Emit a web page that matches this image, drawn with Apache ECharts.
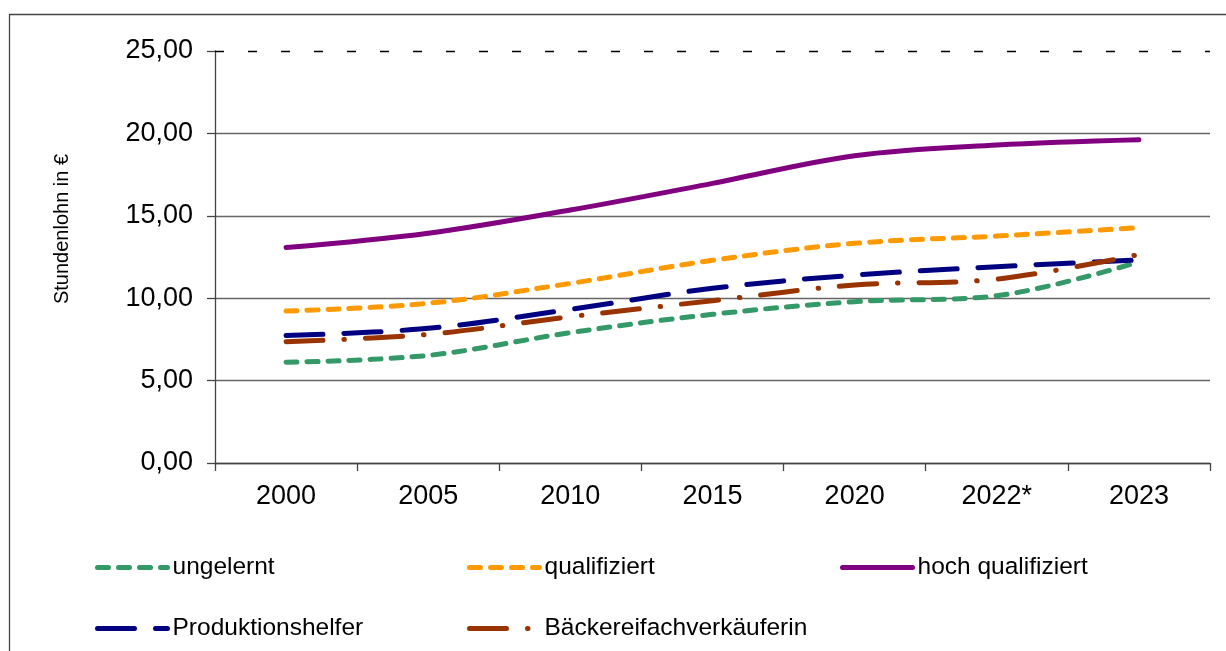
<!DOCTYPE html>
<html>
<head>
<meta charset="utf-8">
<script src="https://cdn.jsdelivr.net/npm/echarts@6/dist/echarts.min.js"></script>
<style>
html,body{margin:0;padding:0;background:#fff;}
#chart{width:1226px;height:651px;}
</style>
</head>
<body>
<div id="chart"></div>
<script>
// ---- data ----
var categories = ['2000', '2005', '2010', '2015', '2020', '2022*', '2023'];
var ungelernt = [6.11, 6.53, 7.91, 9.02, 9.79, 10.15, 12.2];
var qualifiziert = [9.22, 9.69, 10.9, 12.3, 13.33, 13.77, 14.28];
var hochQualifiziert = [13.07, 13.94, 15.35, 16.97, 18.65, 19.3, 19.62];
var produktionshelfer = [7.73, 8.17, 9.32, 10.6, 11.4, 11.91, 12.32];
var baeckerei = [7.36, 7.81, 8.88, 9.85, 10.8, 11.16, 12.65];
var yTicks = { min: 0, max: 25, interval: 5 };
var seriesNames = ['ungelernt', 'qualifiziert', 'hoch qualifiziert', 'Produktionshelfer', 'Bäckereifachverkäuferin'];

var FONT = "'Liberation Sans', Arial, sans-serif";

function mk(name, data, color, dash, extra) {
  var s = {
    name: name,
    type: 'line',
    data: data,
    smooth: 0.35,
    symbol: 'none',
    showSymbol: false,
    lineStyle: { color: color, width: 5, type: dash, cap: 'round', join: 'round' },
    itemStyle: { color: color },
    z: 3
  };
  if (extra) for (var k in extra) s[k] = extra[k];
  return s;
}

function legendCol(left, names) {
  return {
    orient: 'vertical', left: left, top: 550, itemGap: 36,
    itemWidth: 70, itemHeight: 14,
    data: names,
    textStyle: { fontSize: 24.5, color: '#000', fontFamily: FONT },
    itemStyle: { opacity: 0 },
    lineStyle: { width: 5 }
  };
}

var chart = echarts.init(document.getElementById('chart'), null, { renderer: 'canvas' });

var option = {
  animation: false,
  backgroundColor: '#fff',
  textStyle: { fontFamily: FONT },
  grid: { left: 215, right: 16, top: 51, bottom: 188, containLabel: false },
  xAxis: {
    type: 'category',
    data: categories,
    boundaryGap: true,
    axisLine: { lineStyle: { color: '#444', width: 1.3 } },
    axisTick: { show: true, length: 8, lineStyle: { color: '#444', width: 1.3 } },
    axisLabel: { color: '#000', fontSize: 27, fontFamily: FONT, margin: 20 },
    splitLine: { show: false }
  },
  yAxis: {
    type: 'value',
    min: yTicks.min,
    max: yTicks.max,
    interval: yTicks.interval,
    axisLine: { show: true, lineStyle: { color: '#444', width: 1.3 } },
    axisTick: { show: true, length: 8, lineStyle: { color: '#444', width: 1.3 } },
    axisLabel: {
      color: '#000', fontSize: 27, fontFamily: FONT, margin: 22,
      formatter: function (v) { return v.toFixed(2).replace('.', ','); }
    },
    splitLine: { show: true, showMaxLine: false, lineStyle: { color: '#666', width: 1.3 } }
  },
  legend: [
    legendCol(90, [seriesNames[0], seriesNames[3]]),
    legendCol(462, [seriesNames[1], seriesNames[4]]),
    legendCol(835, [seriesNames[2]])
  ],
  graphic: [
    {
      type: 'rect', silent: true, z: 0,
      shape: { x: 9.5, y: 14.5, width: 1400, height: 1000 },
      style: { fill: 'none', stroke: '#444', lineWidth: 1.3 }
    },
    {
      type: 'text', silent: true,
      x: 62, y: 229, rotation: Math.PI / 2,
      style: { text: 'Stundenlohn in €', fontSize: 20, fontFamily: FONT, fill: '#000', align: 'center', verticalAlign: 'middle' }
    }
  ],
  series: [
    mk(seriesNames[0], ungelernt, '#339966', [11, 10], {
      markLine: {
        silent: true, symbol: 'none', label: { show: false },
        lineStyle: { color: '#000', width: 1.3, type: [9, 24] },
        data: [{ yAxis: yTicks.max }]
      }
    }),
    mk(seriesNames[1], qualifiziert, '#FF9900', [11, 10]),
    mk(seriesNames[2], hochQualifiziert, '#800080', 'solid'),
    mk(seriesNames[3], produktionshelfer, '#000080', [37, 21]),
    mk(seriesNames[4], baeckerei, '#993300', [37, 21, 0.5, 21])
  ]
};
chart.setOption(option);
</script>
</body>
</html>
